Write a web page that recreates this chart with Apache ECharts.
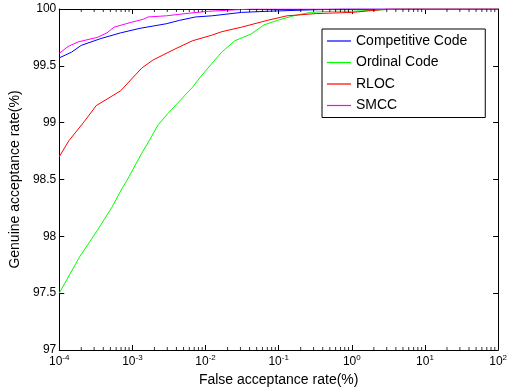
<!DOCTYPE html>
<html>
<head>
<meta charset="utf-8">
<script src="https://cdn.jsdelivr.net/npm/echarts@6/dist/echarts.min.js"></script>
<style>
  html, body { margin: 0; padding: 0; background: #fff; }
  #chart { width: 510px; height: 392px; }
</style>
</head>
<body>
<div id="chart"></div>
<script>
// FAR (%) / GAR (%)
const seriesNames = ['Competitive Code', 'Ordinal Code', 'RLOC', 'SMCC'];
const seriesColors = ['#0000ff', '#00ff00', '#ff0000', '#ff00ff'];

const compFar = [1e-4, 1.47e-4, 2.0e-4, 3.7e-4, 6.9e-4, 1.27e-3, 2.9e-3, 4.4e-3, 7.3e-3, 0.0122, 0.031, 0.070, 0.21, 0.73, 100];
const compGar = [99.57, 99.62, 99.68, 99.74, 99.79, 99.83, 99.87, 99.90, 99.93, 99.94, 99.97, 99.98, 99.99, 100, 100];

const ordFar = [1e-4, 1.9e-4, 3.3e-4, 5.3e-4, 7.2e-4, 8.4e-4, 1.34e-3, 1.73e-3, 2.24e-3, 3.05e-3, 6.6e-3, 8.98e-3, 0.0122, 0.0166, 0.025, 0.042, 0.063, 0.096, 0.16, 0.27, 0.54, 1.0, 4.3, 100];
const ordGar = [97.50, 97.82, 98.05, 98.26, 98.42, 98.49, 98.73, 98.85, 98.98, 99.08, 99.31, 99.42, 99.52, 99.62, 99.72, 99.78, 99.86, 99.90, 99.94, 99.97, 99.98, 99.98, 100, 100];

const rlocFar = [1e-4, 1.35e-4, 2.2e-4, 3.2e-4, 6.9e-4, 1.34e-3, 1.9e-3, 3.6e-3, 6.6e-3, 0.0122, 0.0166, 0.031, 0.070, 0.130, 0.33, 1.0, 3.2, 100];
const rlocGar = [98.70, 98.84, 99.01, 99.15, 99.28, 99.48, 99.55, 99.64, 99.72, 99.77, 99.80, 99.84, 99.90, 99.94, 99.96, 99.97, 100, 100];

const smccFar = [1e-4, 1.32e-4, 1.8e-4, 3.3e-4, 4.5e-4, 5.6e-4, 9.3e-4, 1.41e-3, 1.64e-3, 2.9e-3, 5.4e-3, 0.011, 0.042, 100];
const smccGar = [99.61, 99.67, 99.71, 99.75, 99.79, 99.84, 99.88, 99.91, 99.93, 99.94, 99.96, 99.98, 100, 100];

const xMin = 1e-4;
const xMax = 100;
const yMin = 97;
const yMax = 100;

// minor log ticks: 2..9 x 10^k
const minorTicks = [];
for (let k = -4; k <= 1; k++) {
  for (let m = 2; m <= 9; m++) minorTicks.push(m * Math.pow(10, k));
}

const font = "'Liberation Sans', Arial, sans-serif";
const pairs = (xs, ys) => xs.map((x, i) => [x, ys[i]]);
const allData = [pairs(compFar, compGar), pairs(ordFar, ordGar), pairs(rlocFar, rlocGar), pairs(smccFar, smccGar)];

const chart = echarts.init(document.getElementById('chart'));

const axisLine = { lineStyle: { color: '#000', width: 1 } };
const tick = { inside: true, length: 5, lineStyle: { color: '#000' } };

const lineSeries = seriesNames.map((name, i) => ({
  name,
  type: 'line',
  data: allData[i],
  symbol: 'none',
  color: seriesColors[i],
  lineStyle: { color: seriesColors[i], width: 1 },
  itemStyle: { color: seriesColors[i] },
  animation: false,
}));

const minorSeries = [
  { y: yMin, off: -1.5 },
  { y: yMax, off: 1.5 },
].map((s, i) => ({
  name: 'minor' + i,
  type: 'scatter',
  data: minorTicks.map((x) => [x, s.y]),
  symbol: 'rect',
  symbolSize: [1, 3],
  symbolOffset: [0, s.off],
  itemStyle: { color: '#000' },
  silent: true,
  clip: false,
  z: 5,
  animation: false,
}));

chart.setOption({
  backgroundColor: '#fff',
  textStyle: { fontFamily: font },
  grid: { left: 54, right: 8, top: 9, bottom: 42 },
  legend: {
    data: seriesNames.map((name, i) => ({
      name,
      icon: 'path://M0,0 L24,0 L24,1.2 L0,1.2 Z',
      itemStyle: { color: seriesColors[i], borderWidth: 0 },
    })),
    orient: 'vertical',
    left: 322,
    top: 29,
    itemWidth: 24,
    itemHeight: 14,
    itemGap: 7.5,
    padding: [5, 18, 5, 5],
    backgroundColor: '#fff',
    borderColor: '#000',
    borderWidth: 1,
    textStyle: { fontFamily: font, fontSize: 14, color: '#000' },
  },
  xAxis: [
    {
      type: 'log',
      min: xMin,
      max: xMax,
      logBase: 10,
      splitNumber: 6,
      position: 'bottom',
      name: 'False acceptance rate(%)',
      nameLocation: 'middle',
      nameGap: 23,
      nameTextStyle: { fontFamily: font, fontSize: 14, color: '#000' },
      axisLine,
      axisTick: tick,
      splitLine: { show: false },
      axisLabel: {
        margin: 4,
        formatter: (v) => '{b|10}{s|' + Math.round(Math.log10(v)) + '}',
        rich: {
          b: { fontFamily: font, fontSize: 12, color: '#000', lineHeight: 16 },
          s: { fontFamily: font, fontSize: 8, color: '#000', verticalAlign: 'top', lineHeight: 16 },
        },
      },
    },
    {
      type: 'log',
      min: xMin,
      max: xMax,
      logBase: 10,
      splitNumber: 6,
      position: 'top',
      axisLine,
      axisTick: tick,
      axisLabel: { show: false },
      splitLine: { show: false },
    },
  ],
  yAxis: [
    {
      type: 'value',
      min: yMin,
      max: yMax,
      interval: 0.5,
      position: 'left',
      name: 'Genuine acceptance rate(%)',
      nameLocation: 'middle',
      nameGap: 30,
      nameTextStyle: { fontFamily: font, fontSize: 14, color: '#000' },
      axisLine: { show: true, lineStyle: { color: '#000', width: 1 } },
      axisTick: tick,
      splitLine: { show: false },
      axisLabel: { margin: 3, fontFamily: font, fontSize: 12, color: '#000' },
    },
    {
      type: 'value',
      min: yMin,
      max: yMax,
      interval: 0.5,
      position: 'right',
      axisLine: { show: true, lineStyle: { color: '#000', width: 1 } },
      axisTick: tick,
      axisLabel: { show: false },
      splitLine: { show: false },
    },
  ],
  series: [...minorSeries, ...lineSeries],
});
</script>
</body>
</html>
